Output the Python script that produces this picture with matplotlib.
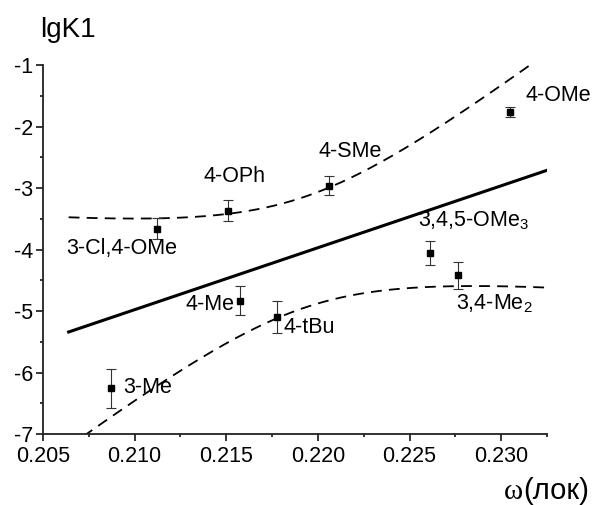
import numpy as np
import matplotlib
matplotlib.use('Agg')
import matplotlib.pyplot as plt

plt.rcParams['font.family'] = ['Liberation Sans', 'DejaVu Sans']
plt.rcParams['axes.unicode_minus'] = False
plt.rcParams['mathtext.fontset'] = 'custom'
plt.rcParams['mathtext.rm'] = 'Liberation Sans'

# substituents, omega(lok), lgK1 and error
names = ['3-Cl,4-OMe', '4-OPh', '4-SMe', '4-OMe', r'3,4,5-OMe$_\mathregular{3}$',
         r'3,4-Me$_\mathregular{2}$', '4-Me', '4-tBu', '3-Me']
omega = [0.2112, 0.2151, 0.2206, 0.2305, 0.2261, 0.22765, 0.21577, 0.21775, 0.20869]
lgk = [-3.66, -3.37, -2.96, -1.76, -4.06, -4.42, -4.83, -5.09, -6.26]
err = [0.17, 0.17, 0.15, 0.08, 0.20, 0.22, 0.24, 0.26, 0.31]

# label anchor points (left, baseline)
label_x = [0.20625, 0.21377, 0.22004, 0.23131, 0.22545, 0.22755, 0.21279, 0.21810, 0.20938]
label_y = [-4.07, -2.90, -2.49, -1.58, -3.62, -4.98, -4.98, -5.35, -6.33]

x = np.array(omega)
y = np.array(lgk)
n = len(x)
slope, icpt = np.polyfit(x, y, 1)
resid = y - (slope * x + icpt)
s = np.sqrt(np.sum(resid**2) / (n - 2))
sxx = np.sum((x - x.mean())**2)
t975 = 2.3646  # Student t, 7 dof

xf = np.linspace(0.2064, 0.2325, 300)
yf = slope * xf + icpt
half = t975 * s * np.sqrt(1.0 / n + (xf - x.mean())**2 / sxx)

fig = plt.figure(figsize=(5.96, 5.05), dpi=100)
ax = fig.add_axes([43/596, 1 - 434/505, 504/596, 369/505])

ax.plot(xf, yf, color='black', lw=2.2)
ax.plot(xf, yf + half, color='black', lw=1.3, dashes=(6, 4))
ax.plot(xf, yf - half, color='black', lw=1.3, dashes=(6, 4))
ax.errorbar(x, y, yerr=err, fmt='s', color='black', ms=5, ecolor='#333333',
            elinewidth=0.8, capsize=3.5, capthick=0.8)

for nm, lx, ly in zip(names, label_x, label_y):
    ax.text(lx, ly, nm, fontsize=15.5, ha='left', va='baseline')

ax.set_xlim(0.205, 0.2325)
ax.set_ylim(-7, -1)
ax.set_xticks([0.205, 0.210, 0.215, 0.220, 0.225, 0.230])
ax.set_xticklabels(['0.205', '0.210', '0.215', '0.220', '0.225', '0.230'])
ax.set_xticks(np.arange(0.2075, 0.2330, 0.005), minor=True)
ax.set_yticks([-7, -6, -5, -4, -3, -2, -1])
ax.set_yticks(np.arange(-6.5, -1.0, 1.0), minor=True)
ax.spines['top'].set_visible(False)
ax.spines['right'].set_visible(False)
for sp in ['left', 'bottom']:
    ax.spines[sp].set_linewidth(1.3)
    ax.spines[sp].set_color('#222222')
ax.tick_params(which='major', direction='out', length=5, width=1.1, labelsize=15.5)
ax.tick_params(axis='y', which='major', pad=2)
ax.tick_params(axis='x', which='major', pad=3.5)
ax.tick_params(which='minor', direction='out', length=2.5, width=1.1)

fig.text(40/596, 1 - 37/505, 'lgK1', fontsize=20, ha='left', va='baseline')
fig.text(523/596, 1 - 499/505, 'ω', fontsize=21, family='Liberation Serif', ha='right', va='baseline')
fig.text(523/596, 1 - 499/505, '(лок)', fontsize=21, ha='left', va='baseline')

fig.savefig('out.png', dpi=100)
